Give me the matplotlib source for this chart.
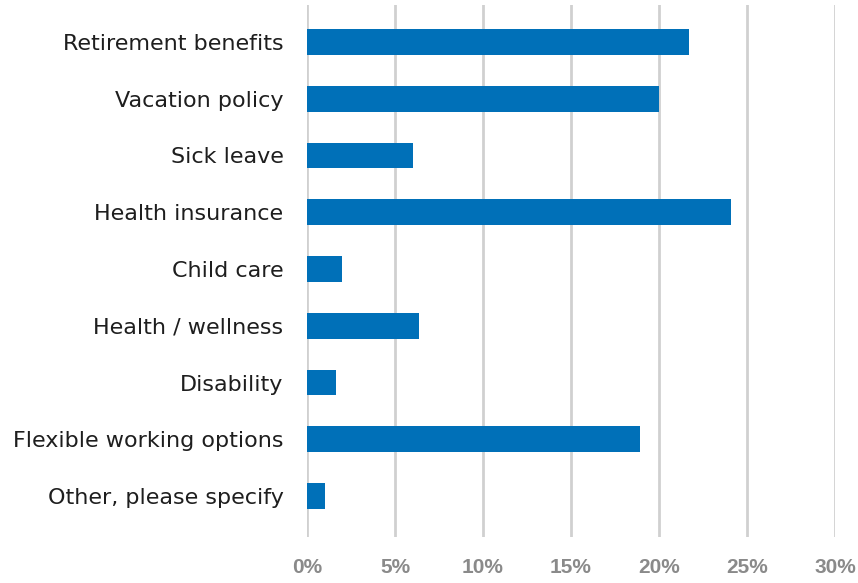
import matplotlib
matplotlib.use("Agg")
import matplotlib.pyplot as plt

categories = [
    "Retirement benefits",
    "Vacation policy",
    "Sick leave",
    "Health insurance",
    "Child care",
    "Health / wellness",
    "Disability",
    "Flexible working options",
    "Other, please specify",
]
values = [21.7, 20.0, 6.0, 24.1, 2.0, 6.35, 1.65, 18.9, 1.05]
x_ticks = [0, 5, 10, 15, 20, 25, 30]
x_tick_labels = ["0%", "5%", "10%", "15%", "20%", "25%", "30%"]

fig = plt.figure(figsize=(8.58, 5.83), dpi=100)
ax = fig.add_axes([307 / 858, 1 - 537 / 583, (835 - 307) / 858, 532 / 583])

pos = list(range(len(categories)))
ax.barh(pos, values, height=0.455, color="#0070b8", zorder=3)

ax.set_xlim(0, 30)
ax.set_ylim(len(categories) - 1 + 0.72, -0.65)

ax.set_xticks(x_ticks)
ax.set_xticklabels(x_tick_labels, fontsize=15, fontweight="bold", color="#8a8a8a",
                   family=["Liberation Sans", "DejaVu Sans"])
ax.set_yticks(pos)
ax.set_yticklabels(categories, fontsize=16, color="#1e1e1e", family=["DejaVu Sans"])

ax.tick_params(axis="x", length=0, pad=15)
ax.tick_params(axis="y", length=0, pad=17)
ax.grid(axis="x", color="#d0d0d0", linewidth=2, zorder=0)
for s in ax.spines.values():
    s.set_visible(False)

fig.savefig("out.png", dpi=100)
